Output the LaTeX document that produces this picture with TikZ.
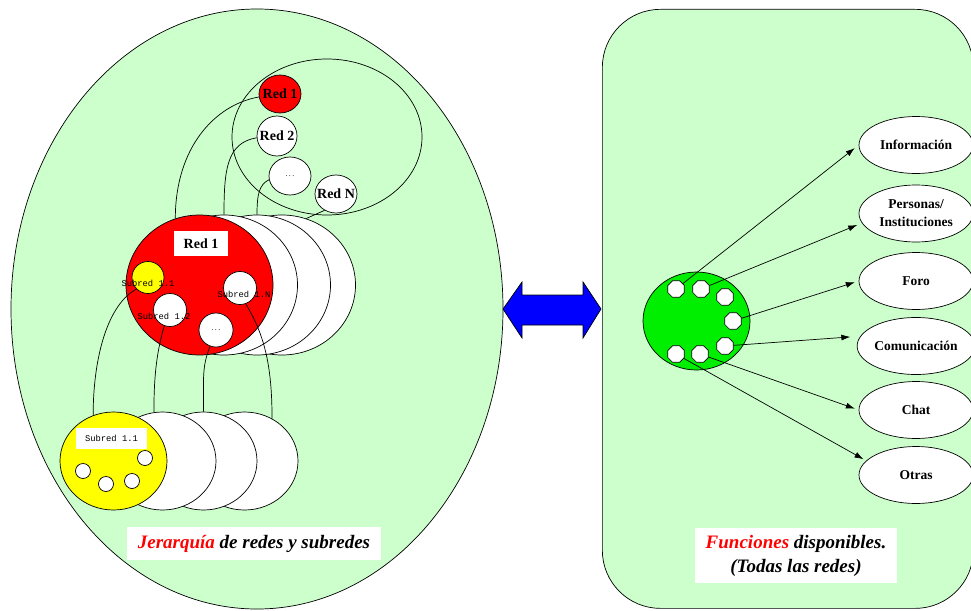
\documentclass[tikz,border=0pt]{standalone}
\usepackage{fontspec}
\setmainfont{Liberation Serif}
\newfontfamily\monof{Liberation Mono}
\usetikzlibrary{shapes.geometric,arrows.meta}
\definecolor{panelg}{RGB}{204,255,204}
\definecolor{brightg}{RGB}{0,238,0}
\definecolor{redc}{RGB}{255,0,0}
\definecolor{yelc}{RGB}{255,255,0}
\definecolor{bluec}{RGB}{0,0,255}
\begin{document}
\begin{tikzpicture}[x=1pt,y=-1pt,
  ring/.style={ellipse,draw=black,line width=0.7pt,inner sep=0pt},
  wring/.style={ring,fill=white},
  lbl/.style={font=\fontsize{14}{16}\selectfont\bfseries},
  sublbl/.style={font=\monof\fontsize{8.8}{10}\selectfont},
  dotlbl/.style={font=\fontsize{8}{9}\selectfont},
  conn/.style={draw=black,line width=0.7pt},
  octo/.style={regular polygon,regular polygon sides=8,minimum size=18,inner sep=0pt,draw=black,line width=0.7pt,fill=white},
  fell/.style={ring,fill=white,minimum width=114,minimum height=57,font=\fontsize{13.5}{18}\selectfont\bfseries,align=center},
  arr/.style={draw=black,line width=0.7pt,-{Latex[length=9pt,width=6pt]}},
  captionbox/.style={fill=white,inner sep=0pt,align=center,font=\fontsize{19}{24}\selectfont\bfseries\itshape}
]
\useasboundingbox (0,0) rectangle (971,610);
% panels
\node[ring,fill=panelg,minimum width=492,minimum height=600] (leftpanel) at (257,309) {};
\node[draw=black,line width=0.7pt,fill=panelg,rounded corners=58,minimum width=371,minimum height=599,anchor=north west,inner sep=0pt] (rightpanel) at (602,9) {};
% double arrow
\draw[fill=bluec,draw=black,line width=0.7pt] (503,309) -- (522,282) -- (522,295) -- (583,295) -- (583,282) -- (601,309) -- (583,338) -- (583,325) -- (522,325) -- (522,338) -- cycle;
% top ring
\node[ring,minimum width=190,minimum height=156] (topring) at (327,137) {};
% big stack
\node[wring,minimum width=147,minimum height=140] (w3) at (282,285) {};
\node[wring,minimum width=147,minimum height=140] (w2) at (257,285) {};
\node[wring,minimum width=147,minimum height=140] (w1) at (224,285) {};
\node[ring,fill=redc,minimum width=147,minimum height=140] (bigred) at (199.5,285) {};
\node[fill=white,minimum width=54,minimum height=25,inner sep=0pt,lbl] (bigredlbl) at (201,243.5) {Red 1};
% small red circles
\node[ring,fill=redc,minimum width=42,minimum height=38,label={[lbl]center:Red 1}] (r1) at (280,94) {};
\node[wring,minimum width=40,minimum height=40,label={[lbl]center:Red 2}] (r2) at (277,136) {};
\node[wring,minimum width=42,minimum height=38,label={[dotlbl]center:.\,.\,.}] (rd) at (290,176) {};
\node[wring,minimum width=42,minimum height=38,label={[lbl]center:Red N}] (rn) at (336,194) {};
% top connectors
\draw[conn] (r1.188) .. controls +(-45,8) and +(0,-70) .. (bigred.110);
\draw[conn] (r2.185) .. controls +(-30,5) and +(0,-45) .. (w1.north);
\draw[conn] (rd.190) .. controls +(-10,5) and +(0,-20) .. (w2.north);
\draw[conn] (rn.235) -- (w3.70);
% lower stack
\node[wring,minimum width=107,minimum height=98] (lw3) at (244.5,461) {};
\node[wring,minimum width=107,minimum height=98] (lw2) at (203.5,461) {};
\node[wring,minimum width=107,minimum height=98] (lw1) at (162.5,461) {};
\node[ring,fill=yelc,minimum width=107,minimum height=98] (lyel) at (113.5,461) {};
\node[fill=white,minimum width=71,minimum height=21,inner sep=0pt,sublbl] (lyellbl) at (111.5,438.5) {Subred 1.1};
\node[wring,minimum size=15] (c1) at (83,471) {};
\node[wring,minimum size=15] (c2) at (106,484) {};
\node[wring,minimum size=15] (c3) at (132,481) {};
\node[wring,minimum size=15] (c4) at (145,458) {};
% sub circles in red
\node[ring,fill=yelc,minimum size=32] (s11) at (148,277.5) {};
\node[wring,minimum size=33] (s12) at (170,310) {};
\node[wring,minimum size=33] (sn) at (240,288) {};
\node[wring,minimum size=34,label={[dotlbl]center:.\,.\,.}] (sd) at (216,330) {};
% lower connectors
\draw[conn] (s11.225) .. controls +(-28,15) and +(0,-60) .. (lyel.114);
\draw[conn] (s12.250) .. controls +(-7,25) and +(0,-40) .. (lw1.100);
\draw[conn] (sd.250) .. controls +(-8,20) and +(0,-35) .. (lw2.north);
\draw[conn] (sn.290) .. controls +(18,30) and +(0,-55) .. (lw3.57);
% sub labels
\node[sublbl,inner sep=0pt] (s11lbl) at (148,283) {Subred 1.1};
\node[sublbl,inner sep=0pt] (s12lbl) at (164,316) {Subred 1.2};
\node[sublbl,inner sep=0pt] (snlbl) at (244,294) {Subred 1.N};
% right side
\node[ring,fill=brightg,minimum width=107,minimum height=98] (gc) at (696.5,321) {};
\node[octo] (o1) at (676,289) {};
\node[octo] (o2) at (701,289) {};
\node[octo] (o3) at (725,297) {};
\node[octo] (o4) at (733,321) {};
\node[octo] (o5) at (725,346) {};
\node[octo] (o6) at (676,354) {};
\node[octo] (o7) at (700,354) {};
\node[fell] (info) at (916,145) {Información};
\node[fell] (pers) at (916,213.5) {Personas/\\Instituciones};
\node[fell] (foro) at (916,281) {Foro};
\node[fell] (com) at (916,346) {Comunicación};
\node[fell] (chat) at (916,410) {Chat};
\node[fell] (otras) at (916,475) {Otras};
\draw[arr,shorten >=5pt] (o1) -- (info.west);
\draw[arr,shorten >=5pt] (o2) -- (pers.190);
\draw[arr,shorten >=4pt] (o4) -- (foro.west);
\draw[arr,shorten >=10pt] (o5) -- (com.170);
\draw[arr,shorten >=4pt] (o7) -- (chat.west);
\draw[arr,shorten >=3pt] (o6) -- (otras.164);
% captions
\node[captionbox,minimum width=254,minimum height=33] (capl) at (254,543.5) {\textcolor{redc}{Jerarquía} de redes y subredes};
\node[captionbox,minimum width=202,minimum height=55] (capr) at (796,555.5) {\textcolor{redc}{Funciones} disponibles.\\(Todas las redes)};
\end{tikzpicture}
\end{document}
